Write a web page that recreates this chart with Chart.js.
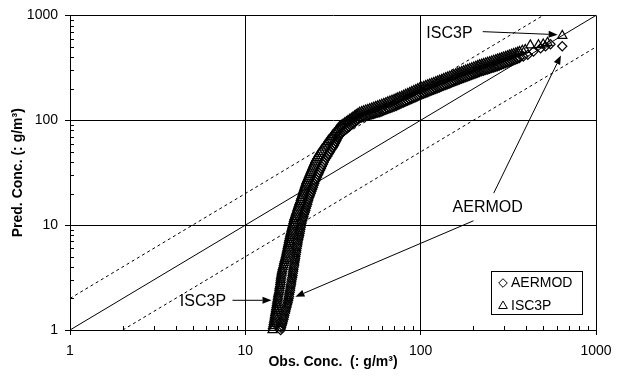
<!DOCTYPE html>
<html>
<head>
<meta charset="utf-8">
<script src="https://cdn.jsdelivr.net/npm/chart.js@4.4.0/dist/chart.umd.min.js"></script>
<style>
  html, body { margin: 0; padding: 0; background: #fff; }
  #wrap { width: 621px; height: 376px; }
</style>
</head>
<body>
<div id="wrap"><canvas id="qqChart" width="621" height="376"></canvas></div>
<script>
// ==================================================
// DATA
// ==================================================
const tickValues = [1, 10, 100, 1000];
const minorValues = [2, 3, 4, 5, 6, 7, 8, 9, 20, 30, 40, 50, 60, 70, 80, 90, 200, 300, 400, 500, 600, 700, 800, 900];

// steep lower part: predicted values shared by both models
const predLow = [
  1.00, 1.05, 1.10, 1.15, 1.20, 1.26, 1.32, 1.38, 1.45, 1.52, 1.59, 1.66, 1.74, 1.82, 1.91,
  2.00, 2.09, 2.19, 2.29, 2.40, 2.51, 2.63, 2.75, 2.88, 3.02, 3.16, 3.31, 3.47, 3.63,
  3.80, 3.98, 4.17, 4.37, 4.57, 4.79, 5.01, 5.25, 5.50, 5.75, 6.03, 6.31, 6.61, 6.92,
  7.24, 7.59, 7.94, 8.32, 8.71, 9.12, 9.55, 10.0, 10.5, 11.0,
  11.5, 12.0, 12.6, 13.2, 13.8, 14.5, 15.1, 15.8, 16.6,
  17.4, 18.2, 19.1, 20.0, 20.9, 21.9, 22.9, 24.0, 25.1,
  26.3, 27.5, 28.8, 30.2, 31.6, 33.1, 34.7, 36.3, 38.0, 39.8,
  41.7, 43.7, 45.7, 47.9, 50.1, 52.5, 55.0, 57.5
];
const obsIscLow = [
  14.3, 14.35, 14.4, 14.5, 14.55, 14.6, 14.7, 14.75, 14.8, 14.9, 14.95, 15.0, 15.1, 15.15, 15.2,
  15.3, 15.35, 15.4, 15.5, 15.6, 15.65, 15.7, 15.8, 15.85, 15.9, 15.95, 16.0, 16.1, 16.15,
  16.25, 16.35, 16.5, 16.6, 16.7, 16.8, 16.95, 17.05, 17.15, 17.25, 17.35, 17.45, 17.55, 17.65,
  17.75, 17.85, 17.95, 18.05, 18.2, 18.3, 18.45, 18.55, 18.7, 18.85,
  18.95, 19.1, 19.3, 19.45, 19.65, 19.8, 20.0, 20.15, 20.35,
  20.6, 20.75, 20.95, 21.15, 21.35, 21.5, 21.7, 21.9, 22.1,
  22.3, 22.6, 22.85, 23.1, 23.4, 23.65, 23.95, 24.2, 24.5, 24.8,
  25.1, 25.5, 25.9, 26.4, 26.9, 27.4, 28.0, 28.5
];
const obsAerLow = [
  15.9, 16.0, 16.1, 16.25, 16.35, 16.5, 16.6, 16.7, 16.85, 16.95, 17.05, 17.2, 17.3, 17.45, 17.55,
  17.65, 17.75, 17.8, 17.9, 18.0, 18.05, 18.15, 18.25, 18.3, 18.4, 18.5, 18.6, 18.65, 18.75,
  18.8, 18.9, 19.0, 19.05, 19.15, 19.25, 19.3, 19.4, 19.5, 19.55, 19.65, 19.75, 19.85, 19.9,
  20.05, 20.15, 20.3, 20.4, 20.5, 20.6, 20.7, 20.85, 20.95, 21.1,
  21.25, 21.45, 21.6, 21.8, 22.0, 22.15, 22.35, 22.55, 22.7,
  22.9, 23.1, 23.35, 23.6, 23.8, 24.05, 24.3, 24.5, 24.75,
  25.0, 25.35, 25.65, 26.0, 26.3, 26.65, 27.0, 27.3, 27.7, 28.0,
  28.4, 28.9, 29.4, 29.9, 30.4, 30.9, 31.5, 32.0
];

// bend and flatter upper part, ISC3P
const obsIscHigh = [
  29.0, 29.5, 30.0, 30.6, 31.1, 31.6, 32.2, 32.8, 33.3, 33.9, 34.55,
  35.3, 36.1, 36.9, 37.7, 38.5, 39.4, 40.2, 41.1, 42.0, 42.9, 43.9, 44.9,
  46.1, 47.3, 48.6, 49.9, 51.2, 52.6, 54.0, 55.4, 56.9, 58.4,
  60.0, 61.6, 63.3, 65.0, 66.8, 68.6, 70.5, 72.4, 74.1, 75.9,
  77.9, 80.0, 82.1, 84.3, 86.6, 88.9, 91.3, 93.7, 96.2, 98.6,
  101.3, 104.0, 106.8, 109.7, 112.6, 115.6, 118.7, 121.9, 125.0, 128.2,
  131.7, 135.2, 138.9, 142.6, 146.5, 150.4, 154.5, 158.6, 162.7, 166.7,
  171.2, 175.8, 180.6, 185.5, 190.5, 195.6, 200.9, 206.3, 211.5, 216.6,
  222.4, 228.4, 234.6, 241.0, 247.5, 254.2, 261.1, 268.1, 274.8, 281.6,
  289.0, 296.7, 304.7, 312.9, 321.3, 330.0, 338.9, 348.0, 357.0, 366.0,
  380, 395, 422, 470, 500, 529, 642
];
const predIscHigh = [
  60.2, 62.5, 64.8, 67.2, 69.8, 72.4, 75.1, 77.9, 80.8, 83.9, 87.0,
  89.3, 91.6, 94.0, 96.5, 99.0, 101.6, 104.2, 106.9, 109.7, 112.6, 115.5, 118.6,
  120.5, 122.4, 124.4, 126.3, 128.4, 130.4, 132.6, 134.7, 136.8, 139,
  141.4, 143.9, 146.5, 149.1, 151.8, 154.5, 157.3, 160.1, 162.7, 165.4,
  168.8, 172.3, 175.8, 179.4, 183.2, 187.0, 190.9, 194.8, 198.9, 202,
  205.5, 209.1, 212.8, 216.5, 220.3, 224.1, 228, 231.9, 235.8, 239.6,
  243.9, 248.3, 252.7, 257.2, 261.7, 266.3, 270.9, 275.6, 280.4, 285.2,
  289.9, 294.7, 299.6, 304.5, 309.5, 314.5, 319.6, 324.9, 330.2, 335.7,
  340.5, 345.4, 350.3, 355.3, 360.3, 365.4, 370.6, 375.9, 381.3, 386.8,
  392.5, 398.4, 404.4, 410.5, 416.8, 423.2, 429.7, 436.4, 443.5, 450.5,
  462, 470, 520, 522, 530, 550, 641
];

// bend and flatter upper part, AERMOD
const obsAerHigh = [
  32.4, 32.8, 33.2, 33.6, 34.0, 34.5,
  35.2, 35.9, 36.6, 37.4, 38.1, 38.9, 39.7, 40.5, 41.3, 42.2, 43.0, 43.9, 44.9,
  46.1, 47.3, 48.6, 49.9, 51.2, 52.6, 54.0, 55.4, 56.9, 58.4,
  60.0, 61.6, 63.3, 65.0, 66.8, 68.6, 70.5, 72.4, 74.1, 75.9,
  77.9, 80.0, 82.1, 84.3, 86.6, 88.9, 91.3, 93.7, 96.2, 98.6,
  101.3, 104.0, 106.8, 109.7, 112.6, 115.6, 118.7, 121.9, 125.0, 128.2,
  131.7, 135.2, 138.9, 142.6, 146.5, 150.4, 154.5, 158.6, 162.7, 166.7,
  171.2, 175.8, 180.6, 185.5, 190.5, 195.6, 200.9, 206.3, 211.5, 216.6,
  222.4, 228.4, 234.6, 241.0, 247.5, 254.2, 261.1, 268.1, 274.8, 281.6,
  289.0, 296.7, 304.7, 312.9, 321.3, 330.0, 338.9, 348.0, 357.0, 366.0,
  385, 408, 440, 483, 515, 550, 642
];
const predAerHigh = [
  60.0, 62.4, 65.0, 67.6, 70.2, 72.8,
  74.9, 77.0, 79.2, 81.4, 83.7, 86.1, 88.5, 91.0, 93.6, 96.2, 99.0, 101.8, 104.7,
  106.1, 107.5, 108.9, 110.4, 111.9, 113.4, 114.9, 116.4, 117.9, 119.3,
  121.4, 123.5, 125.6, 127.8, 130.0, 132.3, 134.6, 137.0, 139.5, 142.0,
  144.8, 147.6, 150.5, 153.4, 156.4, 159.5, 162.6, 165.8, 169.3, 172.8,
  175.8, 178.9, 182.0, 185.2, 188.5, 191.8, 195.2, 198.6, 202.1, 205.6,
  209.2, 212.9, 216.7, 220.5, 224.4, 228.4, 232.4, 236.5, 240.6, 244.8,
  248.8, 252.9, 257.1, 261.4, 265.7, 270.1, 274.6, 279.1, 283.7, 288.3,
  292.4, 296.6, 300.8, 305.1, 309.5, 313.9, 318.4, 322.9, 327.5, 332.1,
  337.6, 343.2, 348.9, 354.7, 360.6, 366.6, 372.8, 379.1, 386.0, 393.0,
  405, 420, 452, 486, 506, 531, 508
];

// reference lines 1:1, 2:1 and 1:2
const lineOneToOne = [[1, 1], [1000, 1000]];
const lineTwoToOne = [[1, 2], [500, 1000]];
const lineOneToTwo = [[2, 1], [1000, 500]];

// callouts: text position and arrows, in data units
const notes = [
  { text: 'ISC3P', at: [146, 674], arrows: [[[226, 700], [604, 655]]] },
  { text: 'AERMOD', at: [241, 14.7], arrows: [[[261, 20.2], [631, 415]], [[200, 11.0], [19.3, 2.07]]] },
  { text: 'ISC3P', at: [5.73, 1.86], arrows: [[[8.45, 1.92], [14.1, 1.92]]] }
];

const FONT = "'Liberation Sans', Arial, Helvetica, sans-serif";
Chart.defaults.font.family = FONT;
Chart.defaults.color = '#000';

function toPoints(xs, ys) {
  return xs.map((x, i) => ({ x: x, y: ys[i] }));
}
function pairs(arr) {
  return arr.map(p => ({ x: p[0], y: p[1] }));
}

// ==================================================
// PLUGINS
// ==================================================
const minorTicks = {
  id: 'minorTicks',
  beforeDatasetsDraw(chart) {
    const { ctx, chartArea: a, scales: { x, y } } = chart;
    ctx.save();
    ctx.strokeStyle = '#000';
    ctx.lineWidth = 1;
    ctx.beginPath();
    minorValues.forEach(v => {
      const px = Math.round(x.getPixelForValue(v)) + 0.5;
      ctx.moveTo(px, a.bottom);
      ctx.lineTo(px, a.bottom - 4);
      const py = Math.round(y.getPixelForValue(v)) + 0.5;
      ctx.moveTo(a.left, py);
      ctx.lineTo(a.left + 4, py);
    });
    ctx.stroke();
    ctx.restore();
  }
};

const callouts = {
  id: 'callouts',
  afterDatasetsDraw(chart) {
    const { ctx, scales: { x, y } } = chart;
    ctx.save();
    ctx.strokeStyle = '#000';
    ctx.fillStyle = '#000';
    ctx.lineWidth = 1;
    ctx.font = '16px ' + FONT;
    ctx.textAlign = 'center';
    ctx.textBaseline = 'middle';
    notes.forEach(n => {
      ctx.fillText(n.text, x.getPixelForValue(n.at[0]), y.getPixelForValue(n.at[1]));
      n.arrows.forEach(ar => {
        const x0 = x.getPixelForValue(ar[0][0]), y0 = y.getPixelForValue(ar[0][1]);
        const x1 = x.getPixelForValue(ar[1][0]), y1 = y.getPixelForValue(ar[1][1]);
        const ang = Math.atan2(y1 - y0, x1 - x0);
        const c = Math.cos(ang), s = Math.sin(ang);
        const bx = x1 - 9 * c, by = y1 - 9 * s;
        ctx.beginPath();
        ctx.moveTo(x0, y0);
        ctx.lineTo(bx, by);
        ctx.stroke();
        ctx.beginPath();
        ctx.moveTo(x1, y1);
        ctx.lineTo(bx - 3.5 * s, by + 3.5 * c);
        ctx.lineTo(bx + 3.5 * s, by - 3.5 * c);
        ctx.closePath();
        ctx.fill();
      });
    });
    ctx.restore();
  }
};

const boxLegend = {
  id: 'boxLegend',
  afterDraw(chart) {
    const { ctx, chartArea: a } = chart;
    const items = chart.data.datasets.filter(d => d.inLegend);
    const w = 91, h = 43;
    const bx = Math.round(a.right - 14 - w), by = Math.round(a.bottom - 16 - h);
    ctx.save();
    ctx.fillStyle = '#fff';
    ctx.fillRect(bx, by, w, h);
    ctx.strokeStyle = '#000';
    ctx.lineWidth = 1;
    ctx.strokeRect(bx + 0.5, by + 0.5, w, h);
    ctx.font = '14px ' + FONT;
    ctx.textAlign = 'left';
    ctx.textBaseline = 'middle';
    items.forEach((d, i) => {
      const cy = by + 12 + i * 23;
      ctx.strokeStyle = '#000';
      ctx.fillStyle = 'rgba(0,0,0,0)';
      const r = d.pointStyle === 'triangle' ? 5 : 4.3;
      Chart.helpers.drawPoint(ctx, { pointStyle: d.pointStyle, radius: r, rotation: 0, borderWidth: 1 }, bx + 12, cy);
      ctx.fillStyle = '#000';
      ctx.fillText(d.label, bx + 20, cy);
    });
    ctx.restore();
  }
};

// ==================================================
// CHART
// ==================================================
const axisCommon = {
  type: 'logarithmic',
  min: 1,
  max: 1000,
  afterBuildTicks: s => { s.ticks = tickValues.map(v => ({ value: v })); },
  ticks: { callback: v => String(v), font: { size: 14 }, autoSkip: false, maxRotation: 0 },
  grid: { color: '#000', lineWidth: 1, tickLength: 5, drawTicks: true },
  border: { color: '#000', width: 1 }
};

new Chart(document.getElementById('qqChart'), {
  type: 'scatter',
  data: {
    datasets: [
      {
        label: 'AERMOD',
        inLegend: true,
        data: toPoints(obsAerLow.concat(obsAerHigh), predLow.concat(predAerHigh)),
        pointStyle: 'rectRot',
        pointRadius: 4.6,
        borderColor: '#000',
        backgroundColor: 'rgba(0,0,0,0)',
        borderWidth: 1.2,
        clip: false
      },
      {
        label: 'ISC3P',
        inLegend: true,
        data: toPoints(obsIscLow.concat(obsIscHigh), predLow.concat(predIscHigh)),
        pointStyle: 'triangle',
        pointRadius: 5.3,
        borderColor: '#000',
        backgroundColor: 'rgba(0,0,0,0)',
        borderWidth: 1.2,
        clip: false
      },
      {
        label: '1:1',
        data: pairs(lineOneToOne),
        showLine: true,
        pointRadius: 0,
        borderColor: '#000',
        borderWidth: 1
      },
      {
        label: '2:1',
        data: pairs(lineTwoToOne),
        showLine: true,
        pointRadius: 0,
        borderColor: '#000',
        borderWidth: 1,
        borderDash: [3, 3]
      },
      {
        label: '1:2',
        data: pairs(lineOneToTwo),
        showLine: true,
        pointRadius: 0,
        borderColor: '#000',
        borderWidth: 1,
        borderDash: [3, 3]
      }
    ]
  },
  options: {
    responsive: false,
    animation: false,
    devicePixelRatio: 1,
    layout: { padding: { top: 13, right: 25, left: 0, bottom: 0 } },
    plugins: {
      legend: { display: false },
      tooltip: { enabled: false }
    },
    scales: {
      x: Object.assign({}, axisCommon, {
        position: 'bottom',
        ticks: Object.assign({}, axisCommon.ticks, { padding: 8 }),
        title: { display: true, text: 'Obs. Conc.  (: g/m³)', font: { size: 14, weight: 'bold' }, padding: { top: 0, bottom: 5 } },
        afterFit: s => { s.height = 46; }
      }),
      y: Object.assign({}, axisCommon, {
        position: 'left',
        ticks: Object.assign({}, axisCommon.ticks, { padding: 7 }),
        title: { display: true, text: 'Pred. Conc. (: g/m³)', font: { size: 14, weight: 'bold' }, padding: { top: 10, bottom: 0 } },
        afterFit: s => { s.width = 70; }
      })
    }
  },
  plugins: [minorTicks, callouts, boxLegend]
});
</script>
</body>
</html>
